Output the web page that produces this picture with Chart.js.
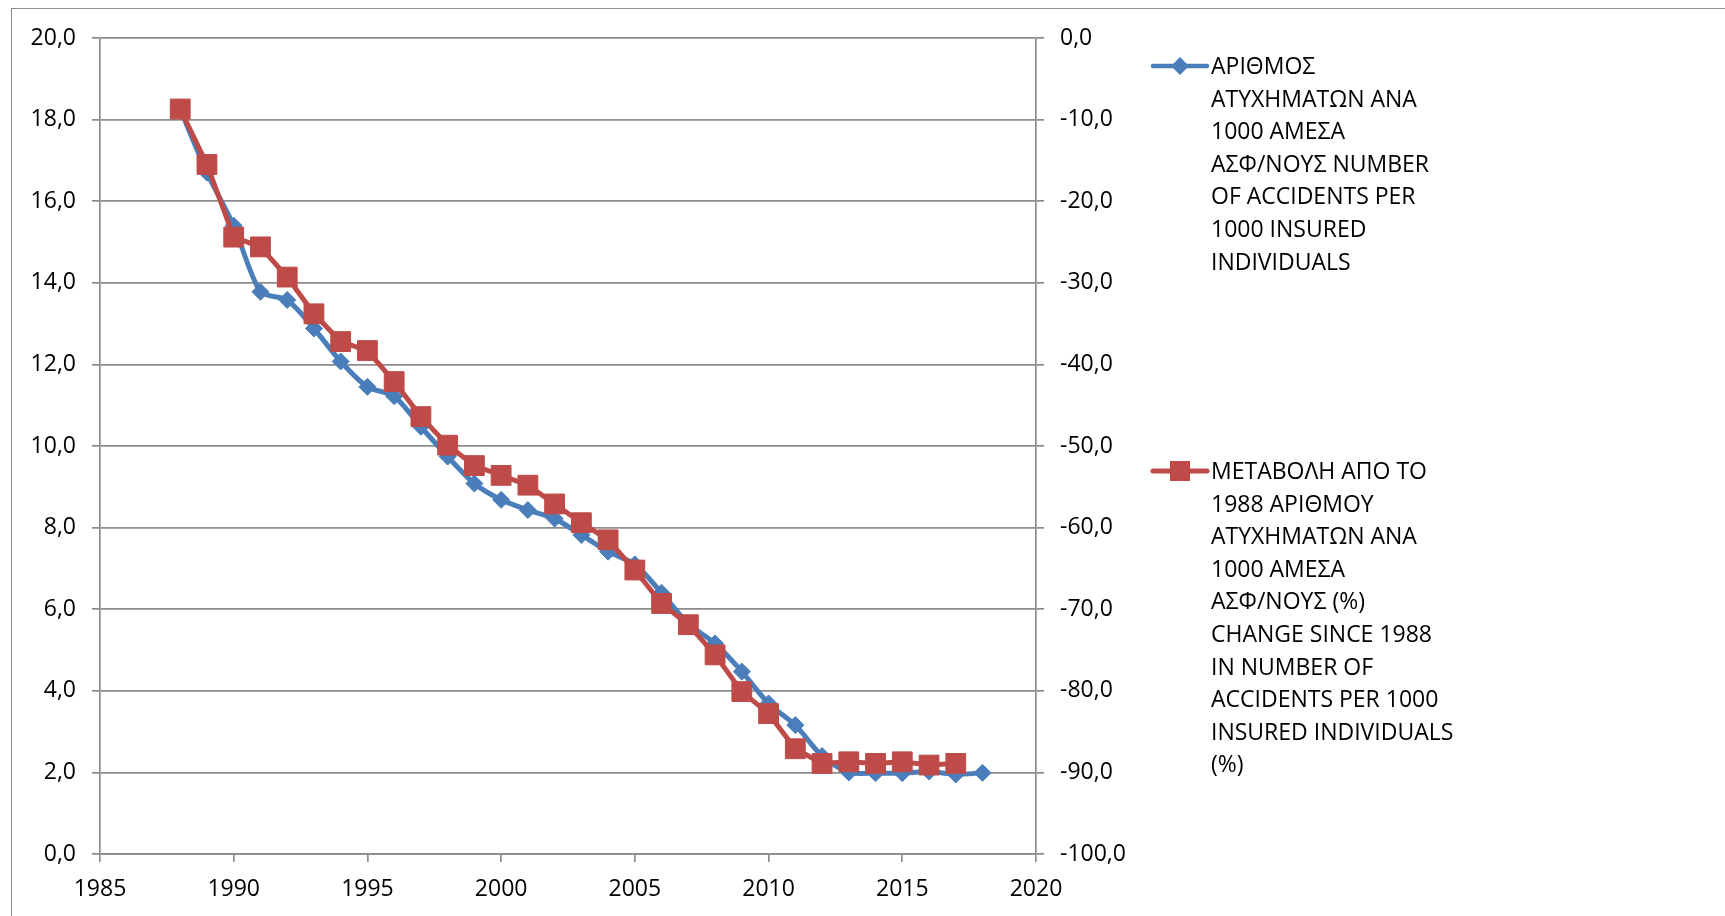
<!DOCTYPE html>
<html>
<head>
<meta charset="utf-8">
<script src="https://cdn.jsdelivr.net/npm/chart.js@4"></script>
<style>
  html, body { margin: 0; padding: 0; background: #fff; overflow: hidden; }
  #wrap { position: relative; width: 1725px; height: 916px; }
  #frame { position: absolute; left: 11px; top: 8px; width: 1800px; height: 1000px; border: 1.5px solid #8c8c8c; }
  #stockChart { position: absolute; left: 0; top: 0; }
  .legend { position: absolute; left: 1150px; font-family: "Open Sans", sans-serif; font-size: 23px; line-height: 32.6px; color: #000; }
  .legend svg { position: absolute; left: 0; top: 4px; }
  .legend div { margin-left: 61px; }
</style>
</head>
<body>
<div id="wrap">
  <div id="frame"></div>
  <canvas id="stockChart" width="1725" height="916"></canvas>
  <div class="legend" style="top: 49px;">
    <svg width="60" height="26"><line x1="3" y1="13" x2="57" y2="13" stroke="#4a7ebb" stroke-width="4.5" stroke-linecap="round"/><polygon points="30,4 39,13 30,22 21,13" fill="#4a7ebb"/></svg>
    <div>ΑΡΙΘΜΟΣ<br>ΑΤΥΧΗΜΑΤΩΝ ΑΝΑ<br>1000 ΑΜΕΣΑ<br>ΑΣΦ/ΝΟΥΣ NUMBER<br>OF ACCIDENTS PER<br>1000 INSURED<br>INDIVIDUALS</div>
  </div>
  <div class="legend" style="top: 454px;">
    <svg width="60" height="26"><line x1="3" y1="13" x2="57" y2="13" stroke="#be4b48" stroke-width="5" stroke-linecap="round"/><rect x="20" y="3" width="20" height="20" fill="#be4b48"/></svg>
    <div>ΜΕΤΑΒΟΛΗ ΑΠΟ ΤΟ<br>1988 ΑΡΙΘΜΟΥ<br>ΑΤΥΧΗΜΑΤΩΝ ΑΝΑ<br>1000 ΑΜΕΣΑ<br>ΑΣΦ/ΝΟΥΣ (%)<br>CHANGE SINCE 1988<br>IN NUMBER OF<br>ACCIDENTS PER 1000<br>INSURED INDIVIDUALS<br>(%)</div>
  </div>
</div>
<script>
const years = [1988, 1989, 1990, 1991, 1992, 1993, 1994, 1995, 1996, 1997, 1998, 1999, 2000, 2001, 2002, 2003,
  2004, 2005, 2006, 2007, 2008, 2009, 2010, 2011, 2012, 2013, 2014, 2015, 2016, 2017, 2018];

// accidents per 1000 insured (left axis)
const accidentsPer1000 = [18.25, 16.7, 15.4, 13.78, 13.58, 12.88, 12.07, 11.45, 11.22, 10.47, 9.74, 9.08, 8.68, 8.43,
  8.22, 7.82, 7.41, 7.1, 6.4, 5.64, 5.16, 4.47, 3.69, 3.16, 2.4, 2.0, 1.98, 1.98, 2.02, 1.95, 1.99];

// change since 1988 in % (right axis), last year has no value
const changeSince1988 = [-8.7, -15.5, -24.4, -25.6, -29.3, -33.8, -37.2, -38.3, -42.1, -46.4, -49.9, -52.4, -53.6,
  -54.8, -57.1, -59.4, -61.5, -65.2, -69.3, -71.9, -75.6, -80.1, -82.8, -87.1, -88.9, -88.7, -88.9, -88.7, -89.1, -88.9];

const leftTicks = { min: 0, max: 20, step: 2 };
const rightTicks = { min: -100, max: 0, step: 10 };
const xTicks = { min: 1985, max: 2020, step: 5 };

const gridColor = '#8c8c8c';
const tickFont = { family: 'Open Sans', size: 23 };
const fmt = v => Number(v).toFixed(1).replace('.', ',');

const ctx = document.getElementById('stockChart').getContext('2d');
new Chart(ctx, {
  type: 'line',
  data: {
    datasets: [
      {
        label: 'ΑΡΙΘΜΟΣ ΑΤΥΧΗΜΑΤΩΝ ΑΝΑ 1000 ΑΜΕΣΑ ΑΣΦ/ΝΟΥΣ NUMBER OF ACCIDENTS PER 1000 INSURED INDIVIDUALS',
        data: years.map((y, i) => ({ x: y, y: accidentsPer1000[i] })),
        yAxisID: 'y',
        borderColor: '#4a7ebb',
        backgroundColor: '#4a7ebb',
        borderWidth: 5,
        pointStyle: 'rectRot',
        pointRadius: 8.5,
        pointBorderWidth: 1,
        tension: 0.25,
        order: 2
      },
      {
        label: 'ΜΕΤΑΒΟΛΗ ΑΠΟ ΤΟ 1988 ΑΡΙΘΜΟΥ ΑΤΥΧΗΜΑΤΩΝ ΑΝΑ 1000 ΑΜΕΣΑ ΑΣΦ/ΝΟΥΣ (%) CHANGE SINCE 1988 IN NUMBER OF ACCIDENTS PER 1000 INSURED INDIVIDUALS (%)',
        data: changeSince1988.map((v, i) => ({ x: years[i], y: v })),
        yAxisID: 'y1',
        borderColor: '#be4b48',
        backgroundColor: '#be4b48',
        borderWidth: 5,
        pointStyle: 'rect',
        pointRadius: 14,
        pointBorderWidth: 1,
        tension: 0,
        order: 1
      }
    ]
  },
  options: {
    responsive: false,
    animation: false,
    layout: { padding: { left: 0, top: 38, right: 589, bottom: 0 } },
    plugins: {
      legend: { display: false },
      tooltip: { enabled: false }
    },
    scales: {
      x: {
        type: 'linear',
        min: xTicks.min,
        max: xTicks.max,
        afterFit: s => { s.height = 62; },
        ticks: { stepSize: xTicks.step, color: '#000', font: tickFont, padding: 14, callback: v => String(v) },
        grid: { drawOnChartArea: false, drawTicks: true, tickLength: 8, color: gridColor, lineWidth: 1.7 },
        border: { color: gridColor, width: 1.7 }
      },
      y: {
        position: 'left',
        min: leftTicks.min,
        max: leftTicks.max,
        afterFit: s => { s.width = 100; },
        ticks: { stepSize: leftTicks.step, color: '#000', font: tickFont, padding: 16, callback: fmt },
        grid: { color: gridColor, lineWidth: 1.7, tickLength: 8 },
        border: { color: gridColor, width: 1.7 }
      },
      y1: {
        position: 'right',
        min: rightTicks.min,
        max: rightTicks.max,
        afterFit: s => { s.width = 100; },
        ticks: { stepSize: rightTicks.step, color: '#000', font: tickFont, padding: 16, callback: fmt },
        grid: { drawOnChartArea: false, color: gridColor, lineWidth: 1.7, tickLength: 8 },
        border: { color: gridColor, width: 1.7 }
      }
    }
  }
});
</script>
</body>
</html>
